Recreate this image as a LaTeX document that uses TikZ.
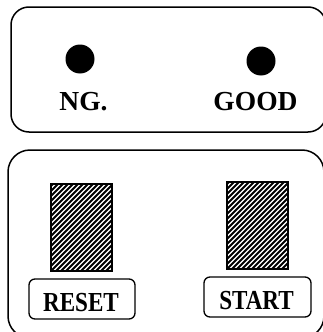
\documentclass[tikz,border=0pt]{standalone}
\usepackage{fontspec}
\setmainfont{Liberation Serif}

\newcommand{\narrowlbl}[1]{\scalebox{0.84}[1]{#1}}

\begin{document}
\begin{tikzpicture}[
  x=1pt, y=-1pt,
  panel/.style={draw, line width=1.5pt, rounded corners=18pt},
  lamp/.style={circle, fill=black, minimum size=29pt, inner sep=0pt},
  keyface/.style={draw, line width=1.2pt},
  hatch/.style={line width=1.9pt},
  btn/.style={draw, line width=1.3pt, rounded corners=6pt},
  lbl/.style={font=\fontsize{27.5}{30}\selectfont\bfseries, inner sep=0pt, anchor=base}
]
\clip (0,0) rectangle (323,332);

% ---------------- lamp panel ----------------
\draw[panel] (11,7) rectangle (326,132);
\node[lamp] (ngLamp) at (80,59) {};
\node[lamp] (goodLamp) at (261,61) {};
\node[lbl] (ngText) at (83.5,110) {NG.};
\node[lbl] (goodText) at (255.5,110) {GOOD};

% ---------------- key panel ----------------
\draw[panel, rounded corners=22pt] (8,150) rectangle (324,338);
\foreach \kx/\ky in {51/184, 227/182} {
  \begin{scope}
    \clip (\kx,\ky) rectangle ++(61,87);
    \foreach \d in {-90,-85,...,65}
      \draw[hatch] (\kx+\d,\ky+87) -- ++(90,-90);
  \end{scope}
  \draw[keyface] (\kx,\ky) rectangle ++(61,87);
}
\draw[btn] (29,279) rectangle (135,319);
\draw[btn] (204,277) rectangle (311,317);
\node[lbl] (resetText) at (81,311) {\narrowlbl{RESET}};
\node[lbl] (startText) at (256.5,309) {\narrowlbl{START}};

\end{tikzpicture}
\end{document}
